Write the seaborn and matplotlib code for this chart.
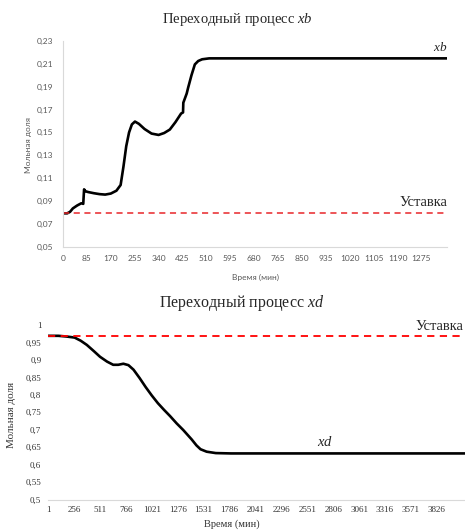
import matplotlib
matplotlib.use("Agg")
import matplotlib.pyplot as plt
import seaborn as sns
import pandas as pd

# ---------------- data ----------------
t_b = [0, 15, 25, 35, 50, 65, 72, 75, 80, 90, 110, 130, 150, 170, 190, 205, 215, 225,
       235, 245, 256, 270, 290, 315, 340, 360, 380, 400, 420, 427, 428, 440, 445, 457,
       469, 481, 495, 520, 1366]
xb = [0.0792, 0.0792, 0.0805, 0.0835, 0.0860, 0.0880, 0.0875, 0.1002, 0.0985, 0.0978,
      0.0968, 0.0960, 0.0956, 0.0965, 0.0990, 0.1040, 0.1200, 0.1380, 0.1500, 0.1570,
      0.1595, 0.1575, 0.1530, 0.1490, 0.1478, 0.1495, 0.1525, 0.1590, 0.1665, 0.1675,
      0.1760, 0.1840, 0.1890, 0.2000, 0.2095, 0.2125, 0.2140, 0.2148, 0.2148]
setpoint_b = 0.0792
xticks_b = [0, 85, 170, 255, 340, 425, 510, 595, 680, 765, 850, 935, 1020, 1105, 1190, 1275]
yticks_b = [0.05, 0.07, 0.09, 0.11, 0.13, 0.15, 0.17, 0.19, 0.21, 0.23]

t_d = [1, 100, 180, 260, 320, 380, 450, 510, 580, 640, 690, 740, 790, 840, 900, 960,
       1020, 1080, 1140, 1200, 1265, 1330, 1413, 1460, 1500, 1560, 1650, 1800, 4104]
xd = [0.969, 0.969, 0.967, 0.964, 0.955, 0.943, 0.925, 0.909, 0.895, 0.886, 0.886,
      0.889, 0.885, 0.872, 0.848, 0.822, 0.798, 0.776, 0.757, 0.739, 0.718, 0.699,
      0.672, 0.655, 0.644, 0.637, 0.633, 0.632, 0.632]
setpoint_d = 0.969
xticks_d = [1, 256, 511, 766, 1021, 1276, 1531, 1786, 2041, 2296, 2551, 2806, 3061, 3316, 3571, 3826]
yticks_d = [0.5, 0.55, 0.6, 0.65, 0.7, 0.75, 0.8, 0.85, 0.9, 0.95, 1.0]

# ---------------- style ----------------
sns.set_style("white")
plt.rcParams['font.family'] = ['Liberation Serif', 'DejaVu Serif']
plt.rcParams['mathtext.fontset'] = 'custom'
plt.rcParams['mathtext.rm'] = 'Liberation Serif'
plt.rcParams['mathtext.it'] = 'Liberation Serif:italic'

W, H = 465, 531
fig = plt.figure(figsize=(W / 100, H / 100), dpi=100)

def fx(px):
    return px / W

def fy(py):
    return 1 - py / H

def fmt(v):
    return ('%g' % v).replace('.', ',')

sans = ['Lato', 'DejaVu Sans']
grey = '#595959'
spine_c = '#d9d9d9'

# ---------------- top chart ----------------
ax1 = fig.add_axes([fx(63), fy(246.7), fx(447) - fx(63), fy(41) - fy(246.7)])
df_b = pd.DataFrame({'t': t_b, 'v': xb})
sns.lineplot(data=df_b, x='t', y='v', ax=ax1, color='black', lw=1.9)
ax1.axhline(setpoint_b, color='#e8262a', ls=(0, (4, 3)), lw=1.1)
ax1.set_xlim(0, 1366)
ax1.set_ylim(0.05, 0.23)
ax1.set_xticks(xticks_b)
ax1.set_xticklabels([str(v) for v in xticks_b], fontsize=6, family=sans, color=grey)
ax1.set_yticks(yticks_b)
ax1.set_yticklabels([fmt(v) for v in yticks_b], fontsize=6, family=sans, color=grey)
ax1.tick_params(axis='y', length=0, pad=7)
ax1.tick_params(axis='x', length=0, pad=6)
for s in ['top', 'right']:
    ax1.spines[s].set_visible(False)
for s in ['left', 'bottom']:
    ax1.spines[s].set_color(spine_c)
    ax1.spines[s].set_linewidth(0.8)
ax1.set_xlabel('')
ax1.set_ylabel('')
fig.text(fx(28.5), fy(145), 'Мольная доля', rotation=90, ha='center', va='center',
         fontsize=6, family=sans, color=grey)
fig.text(fx(255), fy(277), 'Время (мин)', ha='center', va='center',
         fontsize=6, family=sans, color=grey)
fig.text(fx(237), fy(20), 'Переходный процесс $xb$', ha='center', va='center',
         fontsize=10.5, color='#262626')
ax1.text(1366, 0.2148 + 0.004, '$xb$', ha='right', va='bottom', fontsize=9.5)
ax1.text(1366, setpoint_b + 0.004, 'Уставка', ha='right', va='bottom', fontsize=10.5)

# ---------------- bottom chart ----------------
ax2 = fig.add_axes([fx(48.3), fy(499.5), 1 - fx(48.3), fy(325) - fy(499.5)])
df_d = pd.DataFrame({'t': t_d, 'v': xd})
sns.lineplot(data=df_d, x='t', y='v', ax=ax2, color='black', lw=1.9)
ax2.axhline(setpoint_d, color='#ff0000', ls=(0, (4, 3)), lw=1.3)
ax2.set_xlim(1, 4104)
ax2.set_ylim(0.5, 1.0)
ax2.set_xticks(xticks_d)
ax2.set_xticklabels([str(v) for v in xticks_d], fontsize=6.5, color='#333333')
ax2.set_yticks(yticks_d)
ax2.set_yticklabels([fmt(v) for v in yticks_d], fontsize=6.5, color='#333333')
ax2.tick_params(length=0, pad=5)
for s in ['top', 'right', 'left']:
    ax2.spines[s].set_visible(False)
ax2.spines['bottom'].set_color(spine_c)
ax2.spines['bottom'].set_linewidth(0.8)
ax2.set_xlabel('')
ax2.set_ylabel('')
fig.text(fx(12), fy(415), 'Мольная доля', rotation=90, ha='center', va='center',
         fontsize=8, color='#333333')
fig.text(fx(232), fy(524), 'Время (мин)', ha='center', va='center',
         fontsize=7.5, color='#333333')
fig.text(fx(242), fy(303), 'Переходный процесс $xd$', ha='center', va='center',
         fontsize=11.5, color='#262626')
ax2.text(2725, 0.632 + 0.012, '$xd$', ha='center', va='bottom', fontsize=10.5)
fig.text(fx(463), fy(326), 'Уставка', ha='right', va='center', fontsize=10.5)

fig.savefig('out.png', dpi=100)
